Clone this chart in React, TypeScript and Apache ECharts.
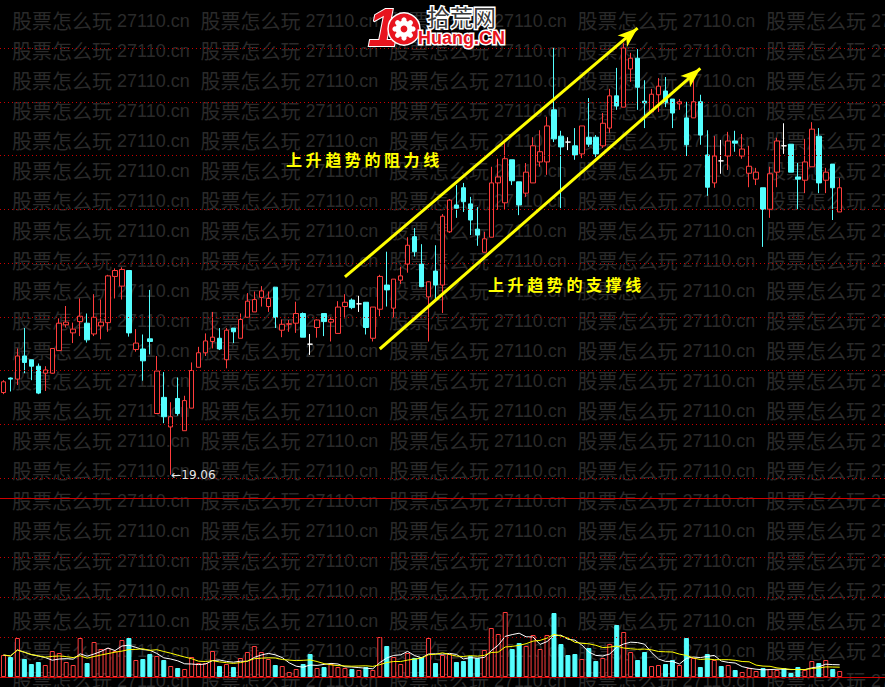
import React, { useEffect, useRef } from 'react';
import * as echarts from 'echarts';

// ---- data ----
const opens = [20.59,20.86,20.84,21.27,21.20,21.08,20.95,20.95,21.37,21.85,21.70,21.91,21.88,21.68,21.83,21.89,22.75,22.57,22.86,21.39,21.40,21.59,20.20,20.50,19.95,20.48,19.88,20.30,21.06,21.33,21.54,21.60,21.20,21.79,21.60,21.99,22.09,22.36,22.19,22.55,21.75,21.86,21.88,22.06,21.49,21.80,22.06,21.90,21.69,22.19,22.31,22.24,22.27,21.60,22.14,22.59,22.16,22.68,22.98,23.49,22.98,22.37,22.85,22.59,23.58,24.08,24.40,24.10,23.63,23.20,23.48,24.49,24.12,24.92,24.51,24.30,24.49,24.88,24.88,25.85,25.36,25.25,25.18,25.03,25.34,25.34,25.18,25.51,26.11,25.90,26.61,26.81,26.01,25.81,26.13,26.20,26.05,25.96,25.70,25.70,26.00,25.01,24.49,24.90,24.99,25.27,24.99,24.67,24.56,24.40,24.00,24.69,25.18,25.21,24.60,24.54,24.79,25.36,24.54,24.84,23.95];
const closes = [20.79,20.84,21.27,21.15,21.08,20.58,21.01,21.41,21.88,21.90,21.77,22.01,21.57,21.99,21.90,22.76,22.86,22.88,21.70,21.51,21.18,21.54,20.99,20.14,20.14,20.20,20.44,21.00,21.33,21.55,21.62,21.40,21.75,21.72,21.95,22.29,22.32,22.48,22.34,21.99,21.86,21.87,22.06,21.62,21.49,21.94,21.91,21.95,22.18,22.27,22.17,22.24,21.80,22.18,22.75,22.50,22.70,22.76,23.33,23.21,22.56,22.65,22.59,23.87,24.17,24.02,24.14,23.80,23.52,23.45,24.49,24.60,24.94,24.53,24.08,24.69,25.18,25.07,25.55,25.31,25.16,25.25,25.01,25.55,25.21,25.03,25.60,26.11,25.92,27.00,26.81,26.27,25.98,26.14,26.29,25.98,25.79,26.00,25.20,26.00,25.38,24.41,24.99,24.90,25.27,25.23,25.12,24.80,24.69,24.00,24.66,25.27,25.18,24.69,24.56,24.88,25.49,24.49,24.69,24.40,24.40];
const lows = [20.56,20.61,20.73,20.95,20.82,20.56,20.62,20.94,21.37,21.80,21.51,21.64,21.52,21.64,21.58,21.72,22.34,22.32,21.63,21.35,20.81,21.30,20.20,20.02,19.06,20.16,19.88,20.30,21.06,21.27,21.41,21.38,21.04,21.51,21.60,21.99,22.09,22.19,22.09,21.79,21.62,21.72,21.70,21.62,21.29,21.61,21.64,21.54,21.69,21.97,22.14,22.09,21.67,21.54,22.01,22.19,21.99,22.61,22.82,23.12,22.56,21.54,22.31,22.07,23.56,23.84,23.95,23.52,23.32,23.20,23.48,23.99,23.99,24.45,23.89,24.23,24.49,24.79,24.64,25.25,24.02,25.10,24.92,24.95,25.16,24.97,25.14,25.42,25.85,25.90,26.37,25.85,25.51,25.81,25.81,25.90,25.51,25.85,24.99,25.70,25.20,24.25,24.40,24.66,24.73,25.07,24.94,24.41,24.45,23.30,23.84,24.41,25.03,24.69,24.00,24.30,24.79,24.30,24.30,23.80,23.95];
const highs = [20.82,20.87,21.41,21.79,21.20,21.13,21.08,21.41,21.97,22.20,21.89,22.34,22.06,22.42,22.32,22.78,22.90,22.92,22.86,21.77,21.67,22.50,21.27,20.97,20.41,20.87,20.53,21.15,21.44,21.69,22.09,21.79,21.79,21.79,22.06,22.44,22.47,22.57,22.47,22.55,21.95,21.94,22.28,22.08,21.68,21.95,22.06,21.99,22.29,22.42,22.34,22.39,22.27,22.18,22.78,23.21,22.70,22.93,23.48,23.65,23.35,22.66,23.33,23.91,24.19,24.45,24.49,24.23,24.04,23.58,24.79,24.94,25.23,24.92,24.51,24.86,25.34,25.47,25.72,27.00,25.46,25.34,25.51,25.55,26.07,25.38,25.79,26.24,26.63,27.09,26.91,26.98,26.40,26.24,26.44,26.46,26.05,26.05,26.00,26.46,26.13,25.47,25.36,25.29,25.44,25.46,25.40,25.18,24.77,24.40,24.79,25.33,25.60,25.21,24.86,25.31,25.62,25.51,24.77,24.84,24.58];
const volumes = [550,500,975,450,325,375,300,650,600,375,300,975,350,875,700,725,650,925,975,425,450,575,525,425,275,225,200,500,350,350,650,275,325,250,475,625,775,625,450,300,275,125,200,325,575,225,250,325,250,225,200,175,250,175,1000,775,500,325,600,475,500,975,350,550,575,375,400,525,475,675,1225,1075,1625,700,850,775,1050,700,1050,1600,825,550,575,450,725,400,475,825,1300,1125,625,425,625,275,300,325,425,300,975,475,250,575,425,275,300,175,125,225,150,225,200,175,225,100,250,175,400,350,425,200,150];
// flat (open == close) days whose volume bar is drawn as an up day
const flatUpDays = [51];
const categories = opens.map((_, i) => 'D' + (i + 1));
const priceGridLines = [19, 20, 21, 22, 23, 24, 25, 26, 27];
const volumeGridLines = [1000, 2000, 3000];
const lowMark = { index: 24, price: 19.06 };
// trend lines: [index, price] endpoints
const resistanceLine = [[49, 22.74], [91, 27.37]];
const supportLine = [[54, 21.40], [100, 26.62]];

const RED = '#ff3c3c';
const CYAN = '#54ffff';
const GRIDRED = '#c80000';
const WM = '#2a2a2a';
const SLOTS = 127;

function movingAverage(arr: number[], n: number) {
  return arr.map((_, i) => {
    const s = arr.slice(Math.max(0, i - n + 1), i + 1);
    return +(s.reduce((a, b) => a + b, 0) / s.length).toFixed(1);
  });
}

export default function App() {
  const ref = useRef<HTMLDivElement>(null);
  useEffect(() => {
    document.body.style.margin = '0';
    document.body.style.background = '#000';
    if (!ref.current) return;
    const chart = echarts.init(ref.current, null, { renderer: 'svg' });

    const xCats = categories.concat(Array.from({ length: SLOTS - categories.length }, () => ''));

    const candleData = opens.map((o, i) => {
      const v = [o, closes[i], lows[i], highs[i]];
      if (o === closes[i]) {
        return { value: v, itemStyle: { color: '#fff', color0: '#fff', borderColor: '#fff', borderColor0: '#fff' } };
      }
      return v;
    });

    const volData = volumes.map((v, i) => {
      const up = closes[i] > opens[i] || (closes[i] === opens[i] && flatUpDays.includes(i));
      return {
        value: v,
        itemStyle: up
          ? { color: '#000', borderColor: RED, borderWidth: 1 }
          : { color: CYAN, borderColor: CYAN, borderWidth: 1 },
      };
    });

    // watermark
    const graphics: any[] = [];
    for (let r = 0; r < 23; r++) {
      const y = 20 + 30 * r;
      for (let k = 0; k < 5; k++) {
        graphics.push({
          type: 'text', x: 12 + 188.5 * k, y, z: 0, silent: true,
          style: { text: '股票怎么玩', fill: WM, font: '20px "Noto Sans CJK SC"', verticalAlign: 'middle', align: 'left' },
        });
        graphics.push({
          type: 'text', x: 117 + 188.5 * k, y: y + 1, z: 0, silent: true,
          style: { text: '27110.cn', fill: WM, font: '18px "Liberation Sans"', verticalAlign: 'middle', align: 'left' },
        });
      }
    }
    // yellow labels
    const label = (txt: string, x0: number, y: number) =>
      txt.split('').map((ch, k) => ({
        type: 'text', x: x0 + 19.6 * k, y, z: 100, silent: true,
        style: {
          text: ch, fill: '#ffff00', font: 'bold 16px "Noto Sans CJK SC"', verticalAlign: 'middle', align: 'left',
          textShadowColor: '#7a7a00', textShadowOffsetX: 1, textShadowOffsetY: 1, textShadowBlur: 0,
        },
      }));
    graphics.push(...label('上升趋势的阻力线', 286, 159));
    graphics.push(...label('上升趋势的支撑线', 488, 284));

    // logo
    graphics.push({
      type: 'text', x: 383, y: 27, z: 100, silent: true,
      style: { text: '1', fill: '#e8141e', stroke: '#fff', lineWidth: 2, font: 'italic bold 54px "Liberation Sans"', align: 'center', verticalAlign: 'middle' },
    });
    graphics.push({ type: 'circle', z: 100, silent: true, shape: { cx: 404, cy: 29, r: 16 }, style: { fill: '#e8141e', stroke: '#fff', lineWidth: 1.5 } });
    for (let t = 0; t < 8; t++) {
      const a = (Math.PI * 2 * t) / 8;
      graphics.push({ type: 'circle', z: 101, silent: true, shape: { cx: 404 + 9 * Math.cos(a), cy: 29 + 9 * Math.sin(a), r: 2.6 }, style: { fill: '#fff' } });
    }
    graphics.push({ type: 'circle', z: 101, silent: true, shape: { cx: 404, cy: 29, r: 8.5 }, style: { fill: '#fff' } });
    graphics.push({ type: 'circle', z: 102, silent: true, shape: { cx: 404, cy: 29, r: 3.4 }, style: { fill: '#e8141e' } });
    graphics.push({
      type: 'text', x: 427, y: 16, z: 100, silent: true,
      style: { text: '拾荒网', fill: '#fff', stroke: '#fff', lineWidth: 3, font: '23px "Noto Sans CJK SC"', verticalAlign: 'middle', align: 'left' },
    });
    graphics.push({
      type: 'text', x: 427, y: 16, z: 101, silent: true,
      style: { text: '拾荒网', fill: '#3a3a3a', font: '23px "Noto Sans CJK SC"', verticalAlign: 'middle', align: 'left' },
    });
    graphics.push({
      type: 'text', x: 418, y: 38, z: 100, silent: true,
      style: { text: 'Huang.CN', fill: '#fff', stroke: '#fff', lineWidth: 3, font: 'bold 18px "Liberation Sans"', verticalAlign: 'middle', align: 'left' },
    });
    graphics.push({
      type: 'text', x: 418, y: 38, z: 101, silent: true,
      style: { text: 'Huang.CN', fill: '#e8141e', font: 'bold 18px "Liberation Sans"', verticalAlign: 'middle', align: 'left' },
    });

    const trend = (pts: number[][]) => [
      { coord: pts[0], symbol: 'none', lineStyle: { color: '#ffff00', width: 3, type: 'solid' } },
      { coord: pts[1], symbol: 'arrow', symbolSize: [11, 20], itemStyle: { color: '#ffff00' } },
    ];

    chart.setOption({
      animation: false,
      backgroundColor: '#000',
      grid: [
        { left: 0, right: 0, top: 0, bottom: 189 },
        { left: 0, right: 0, top: 498, bottom: 10 },
      ],
      xAxis: [
        {
          type: 'category', gridIndex: 0, data: xCats, boundaryGap: true,
          axisLine: { show: true, lineStyle: { color: '#d00000', width: 1 } },
          axisTick: { show: false }, axisLabel: { show: false }, splitLine: { show: false },
        },
        {
          type: 'category', gridIndex: 1, data: xCats, boundaryGap: true,
          axisLine: { show: true, lineStyle: { color: '#d00000', width: 1 } },
          axisTick: { show: false }, axisLabel: { show: false }, splitLine: { show: false },
        },
      ],
      yAxis: [
        {
          type: 'value', gridIndex: 0, min: 18.628, max: 27.893,
          axisLine: { show: false }, axisTick: { show: false }, axisLabel: { show: false }, splitLine: { show: false },
        },
        {
          type: 'value', gridIndex: 1, min: 0, max: 4475,
          axisLine: { show: false }, axisTick: { show: false }, axisLabel: { show: false }, splitLine: { show: false },
        },
      ],
      graphic: graphics,
      series: [
        {
          type: 'candlestick', xAxisIndex: 0, yAxisIndex: 0, barWidth: 5, z: 3,
          data: candleData,
          itemStyle: { color: '#000', color0: CYAN, borderColor: RED, borderColor0: CYAN, borderWidth: 1 },
          markLine: {
            silent: true, symbol: ['none', 'none'], animation: false,
            label: { show: false },
            lineStyle: { color: GRIDRED, width: 1, type: [1, 3] },
            data: [
              ...priceGridLines.map((v) => ({ yAxis: v })),
              trend(resistanceLine),
              trend(supportLine),
            ],
          },
          markPoint: {
            silent: true, symbol: 'circle', symbolSize: 1, itemStyle: { color: 'transparent' },
            label: { show: true, position: 'right', distance: 0, formatter: '←' + lowMark.price.toFixed(2), color: '#e6e6e6', fontSize: 12, fontFamily: '"DejaVu Sans"' },
            data: [{ coord: [lowMark.index, lowMark.price], value: lowMark.price }],
          },
        },
        {
          type: 'bar', xAxisIndex: 1, yAxisIndex: 1, barWidth: 5, z: 2,
          data: volData,
          markLine: {
            silent: true, symbol: ['none', 'none'], label: { show: false },
            lineStyle: { color: GRIDRED, width: 1, type: [1, 3] },
            data: volumeGridLines.map((v) => ({ yAxis: v })),
          },
        },
        {
          type: 'line', xAxisIndex: 1, yAxisIndex: 1, data: movingAverage(volumes, 5), showSymbol: false, z: 4,
          lineStyle: { color: '#ffffff', width: 1 }, silent: true,
        },
        {
          type: 'line', xAxisIndex: 1, yAxisIndex: 1, data: movingAverage(volumes, 10), showSymbol: false, z: 4,
          lineStyle: { color: '#ffff00', width: 1 }, silent: true,
        },
      ],
    });
    return () => chart.dispose();
  }, []);
  return <div ref={ref} style={{ position: 'fixed', left: 0, top: 0, width: 885, height: 687, background: '#000' }} />;
}
